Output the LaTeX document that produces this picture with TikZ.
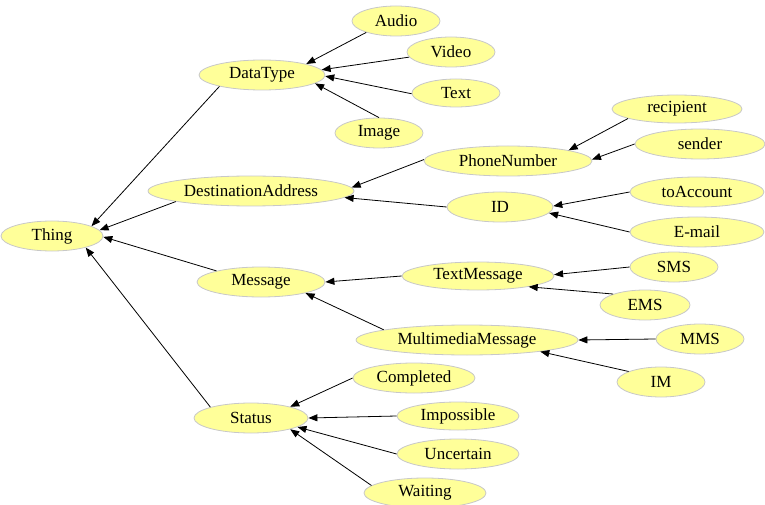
\documentclass[tikz,border=0pt]{standalone}
\usepackage{fontspec}
\setmainfont{Liberation Serif}
\usetikzlibrary{shapes.geometric,arrows.meta}
\definecolor{nodefill}{RGB}{255,255,153}
\definecolor{nodeline}{RGB}{200,200,200}
\begin{document}
\begin{tikzpicture}[x=1pt,y=1pt,
  cls/.style={ellipse,draw=nodeline,fill=nodefill,line width=0.8pt,inner sep=0pt,
    minimum height=30pt,font=\fontsize{17}{19}\selectfont},
  isa/.style={-{Triangle[length=9pt,width=7pt]},line width=0.8pt,black}]
\useasboundingbox (0,0) rectangle (765,504);
% top-level concepts
\node[cls,minimum width=102pt] (thing) at (52,268) {Thing};
\node[cls,minimum width=126pt] (datatype) at (262,429) {DataType};
\node[cls,minimum width=206pt] (dest) at (251,313) {DestinationAddress};
\node[cls,minimum width=128pt] (message) at (261,222) {Message};
\node[cls,minimum width=114pt] (status) at (251,86) {Status};
% data types
\node[cls,minimum width=88pt] (audio) at (396,483) {Audio};
\node[cls,minimum width=88pt] (video) at (451,452) {Video};
\node[cls,minimum width=88pt,minimum height=28pt] (text) at (456,411) {Text};
\node[cls,minimum width=88pt] (image) at (379,371) {Image};
% destination addresses
\node[cls,minimum width=168pt] (phone) at (508,343) {PhoneNumber};
\node[cls,minimum width=106pt] (id) at (500,297) {ID};
\node[cls,minimum width=130pt,minimum height=28pt] (recipient) at (677,395) {recipient};
\node[cls,minimum width=130pt] (sender) at (700,360) {sender};
\node[cls,minimum width=134pt] (toaccount) at (697,312) {toAccount};
\node[cls,minimum width=134pt] (email) at (697,272) {E-mail};
% messages
\node[cls,minimum width=152pt,minimum height=28pt] (textmsg) at (478,228) {TextMessage};
\node[cls,minimum width=88pt] (sms) at (674,237) {SMS};
\node[cls,minimum width=90pt] (ems) at (645,199) {EMS};
\node[cls,minimum width=222pt] (mmmsg) at (467,164) {MultimediaMessage};
\node[cls,minimum width=88pt] (mms) at (700,165) {MMS};
\node[cls,minimum width=88pt] (im) at (661,122) {IM};
% status values
\node[cls,minimum width=122pt] (completed) at (414,126) {Completed};
\node[cls,minimum width=122pt,minimum height=28pt] (impossible) at (458,88) {Impossible};
\node[cls,minimum width=122pt] (uncertain) at (458,50) {Uncertain};
\node[cls,minimum width=122pt] (waiting) at (425,11) {Waiting};
% subclass links
\draw[isa] (datatype.195) -- (thing.14);
\draw[isa] (dest.188) -- (thing.7);
\draw[isa] (message.166) -- (thing.359);
\draw[isa] (status.165) -- (thing.341);
\draw[isa] (audio.201) -- (datatype.14);
\draw[isa] (video.187) -- (datatype.5);
\draw[isa] (text.181) -- (datatype.359);
\draw[isa] (image.90) -- (datatype.351);
\draw[isa] (phone.179) -- (dest.2);
\draw[isa] (id.180) -- (dest.356);
\draw[isa] (recipient.191) -- (phone.10);
\draw[isa] (sender.180) -- (phone.1);
\draw[isa] (toaccount.180) -- (id.1);
\draw[isa] (email.180) -- (id.353);
\draw[isa] (textmsg.180) -- (message.0);
\draw[isa] (mmmsg.173) -- (message.346);
\draw[isa] (sms.180) -- (textmsg.1.5);
\draw[isa] (ems.161) -- (textmsg.348);
\draw[isa] (mms.180) -- (mmmsg.0);
\draw[isa] (im.162) -- (mmmsg.351);
\draw[isa] (completed.180) -- (status.16);
\draw[isa] (impossible.180) -- (status.0);
\draw[isa] (uncertain.180) -- (status.349);
\draw[isa] (waiting.172) -- (status.344);
\end{tikzpicture}
\end{document}
